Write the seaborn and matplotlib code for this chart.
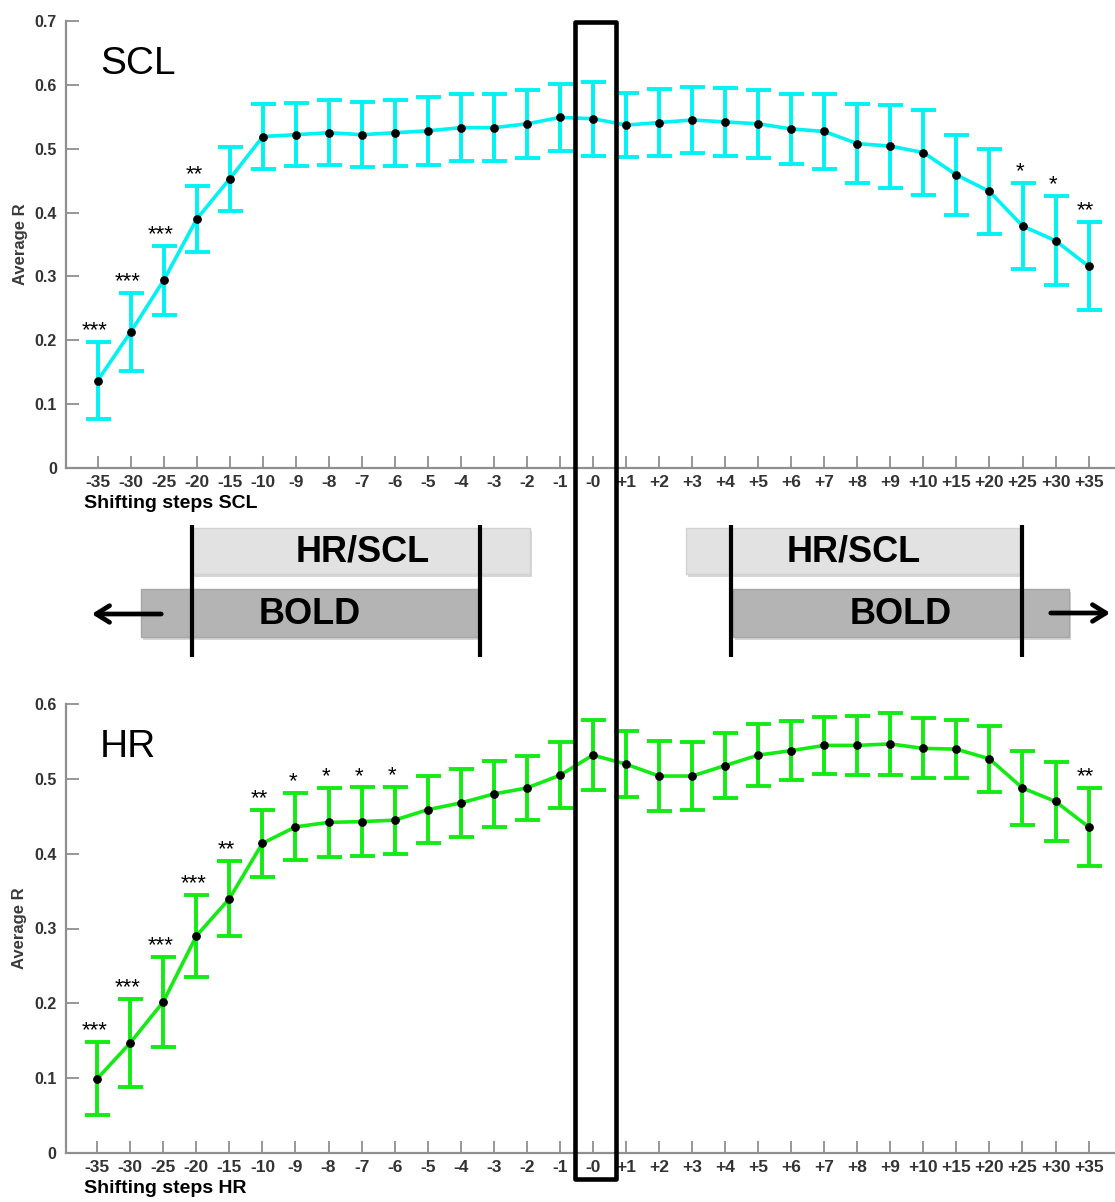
import numpy as np
import pandas as pd
import matplotlib
matplotlib.use("Agg")
import matplotlib.pyplot as plt
import matplotlib.patheffects as pe
from matplotlib.patches import Rectangle
from matplotlib.transforms import blended_transform_factory
import seaborn as sns

# === CONFIG ===
sns.set_theme(style="white")
plt.rcParams["font.family"] = ["Liberation Sans", "DejaVu Sans"]

# === DATA ===
steps = ["-35", "-30", "-25", "-20", "-15", "-10", "-9", "-8", "-7", "-6", "-5", "-4", "-3", "-2", "-1",
         "-0", "+1", "+2", "+3", "+4", "+5", "+6", "+7", "+8", "+9", "+10", "+15", "+20", "+25", "+30", "+35"]

scl_mean = [0.137, 0.213, 0.294, 0.390, 0.453, 0.519, 0.522, 0.525, 0.522, 0.525, 0.528, 0.533, 0.533, 0.539,
            0.549, 0.547, 0.537, 0.541, 0.545, 0.542, 0.539, 0.531, 0.527, 0.508, 0.504, 0.494, 0.459, 0.433,
            0.379, 0.356, 0.316]
scl_err = [0.060, 0.061, 0.054, 0.052, 0.050, 0.051, 0.049, 0.051, 0.051, 0.052, 0.053, 0.053, 0.053, 0.053,
           0.053, 0.058, 0.050, 0.052, 0.052, 0.053, 0.053, 0.055, 0.058, 0.062, 0.065, 0.067, 0.063, 0.067,
           0.068, 0.070, 0.069]
scl_sig = ["***", "***", "***", "**"] + [""] * 24 + ["*", "*", "**"]

hr_mean = [0.099, 0.147, 0.202, 0.290, 0.340, 0.414, 0.436, 0.442, 0.443, 0.445, 0.459, 0.468, 0.480, 0.488,
           0.505, 0.532, 0.520, 0.504, 0.504, 0.518, 0.532, 0.538, 0.545, 0.545, 0.547, 0.541, 0.540, 0.527,
           0.488, 0.470, 0.436]
hr_err = [0.049, 0.059, 0.060, 0.055, 0.050, 0.045, 0.045, 0.046, 0.046, 0.045, 0.045, 0.045, 0.044, 0.043,
          0.044, 0.047, 0.044, 0.047, 0.046, 0.043, 0.041, 0.039, 0.038, 0.039, 0.042, 0.040, 0.039, 0.044,
          0.050, 0.053, 0.052]
hr_sig = ["***", "***", "***", "***", "**", "**", "*", "*", "*", "*"] + [""] * 20 + ["**"]

W, H = 1115, 1202
fig = plt.figure(figsize=(W / 100, H / 100), dpi=100)

spine_c = "#8f8f8f"
label_c = "#333333"


def panel(rect, mean, err, sig, color, ymax, name, xlabel):
    ax = fig.add_axes(rect)
    df = pd.DataFrame({"pos": np.arange(len(steps)), "r": mean, "err": err})
    ax.errorbar(df["pos"], df["r"], yerr=df["err"], fmt="none", ecolor=color,
                elinewidth=2.8, capsize=9, capthick=2.8, zorder=2)
    sns.lineplot(data=df, x="pos", y="r", ax=ax, color=color, lw=2.6, marker="o", markersize=5.5,
                 markerfacecolor="black", markeredgecolor="black", zorder=3)
    for p, m, e, s in zip(df["pos"], mean, err, sig):
        if s:
            ax.annotate(s, (p, m + e), xytext=(-2, 4), textcoords="offset points",
                        ha="center", va="baseline", fontsize=16, color="black")
    ax.set_xlim(-0.96, 30.8)
    ax.set_ylim(0, ymax)
    ax.set_xticks(df["pos"])
    ax.set_xticklabels(steps)
    ax.set_yticks(np.round(np.arange(0, ymax + 0.01, 0.1), 1))
    ax.set_yticklabels(["0"] + [f"{v:.1f}" for v in np.arange(0.1, ymax + 0.01, 0.1)])
    for s in ["top", "right"]:
        ax.spines[s].set_visible(False)
    for s in ["left", "bottom"]:
        ax.spines[s].set_color(spine_c)
        ax.spines[s].set_linewidth(1.6)
    ax.tick_params(axis="both", direction="in", length=9, width=1.3, color=spine_c,
                   labelcolor=label_c, bottom=True, left=True)
    ax.tick_params(axis="x", pad=5, labelsize=12.5)
    ax.tick_params(axis="y", pad=6.5, labelsize=11.5)
    for t in ax.get_xticklabels() + ax.get_yticklabels():
        t.set_fontweight("bold")
    ax.set_xlabel(xlabel, fontsize=14, fontweight="bold", color="black", ha="left", va="center")
    ax.xaxis.set_label_coords(18 / 1049, -0.08)
    ax.set_ylabel("Average R", fontsize=12, fontweight="bold", color="#3a3a3a")
    ax.yaxis.set_label_coords(-38 / 1049, 0.5)
    ax.text(0.033, 0.882, name, transform=ax.transAxes, fontsize=28, ha="left", va="baseline", color="black")
    return ax


ax1 = panel([66 / W, 1 - 468 / H, 1049 / W, 447 / H], scl_mean, scl_err, scl_sig,
            "#00f2f2", 0.7, "SCL", "Shifting steps SCL")
ax2 = panel([65.5 / W, 1 - 1152.7 / H, 1049.5 / W, 448.4 / H], hr_mean, hr_err, hr_sig,
            "#14ea14", 0.6, "HR", "Shifting steps HR")

# --- middle scheme (pixel coordinates) ---
sch = fig.add_axes([0, 0, 1, 1], zorder=-1)
sch.set_xlim(0, W)
sch.set_ylim(H, 0)
sch.axis("off")

shadow = [pe.SimplePatchShadow(offset=(1.5, -2.5), shadow_rgbFace="#bbbbbb", alpha=0.6), pe.Normal()]
boxes = [  # x0, x1, y0, y1, face, edge, text, text x
    (192, 530, 528, 574, "#e2e2e2", "#d2d2d2", "HR/SCL", 363),
    (141, 479, 589, 637, "#b4b4b4", "#a6a6a6", "BOLD", 310),
    (686, 1020, 528, 574, "#e2e2e2", "#d2d2d2", "HR/SCL", 854),
    (733, 1069, 589, 637, "#b4b4b4", "#a6a6a6", "BOLD", 901),
]
for x0, x1, y0, y1, fc, ec, txt, tx in boxes:
    r = Rectangle((x0, y0), x1 - x0, y1 - y0, facecolor=fc, edgecolor=ec, lw=1)
    r.set_path_effects(shadow)
    sch.add_patch(r)
    sch.text(tx, (y0 + y1) / 2 + 1, txt, ha="center", va="center", fontsize=26,
             fontweight="bold", color="black")

for xv in [192, 480, 731, 1022]:
    sch.plot([xv, xv], [525, 657], color="black", lw=3, solid_capstyle="butt")

arrow = dict(arrowstyle="->,head_width=0.5,head_length=0.8", lw=3.4, color="black")
sch.annotate("", xy=(89, 614), xytext=(164, 614), arrowprops=arrow)
sch.annotate("", xy=(1113, 613), xytext=(1048, 613), arrowprops=arrow)

# --- frame around the -0 step, spanning both panels ---
blend = blended_transform_factory(ax1.transData, fig.transFigure)
i0 = steps.index("-0")
frame = Rectangle((i0 - 0.56, 1 - 1179 / H), 1.24, (1179 - 22) / H, transform=blend,
                  fill=False, edgecolor="black", lw=3.3, joinstyle="round")
fig.add_artist(frame)

fig.savefig("out.png", dpi=100)
